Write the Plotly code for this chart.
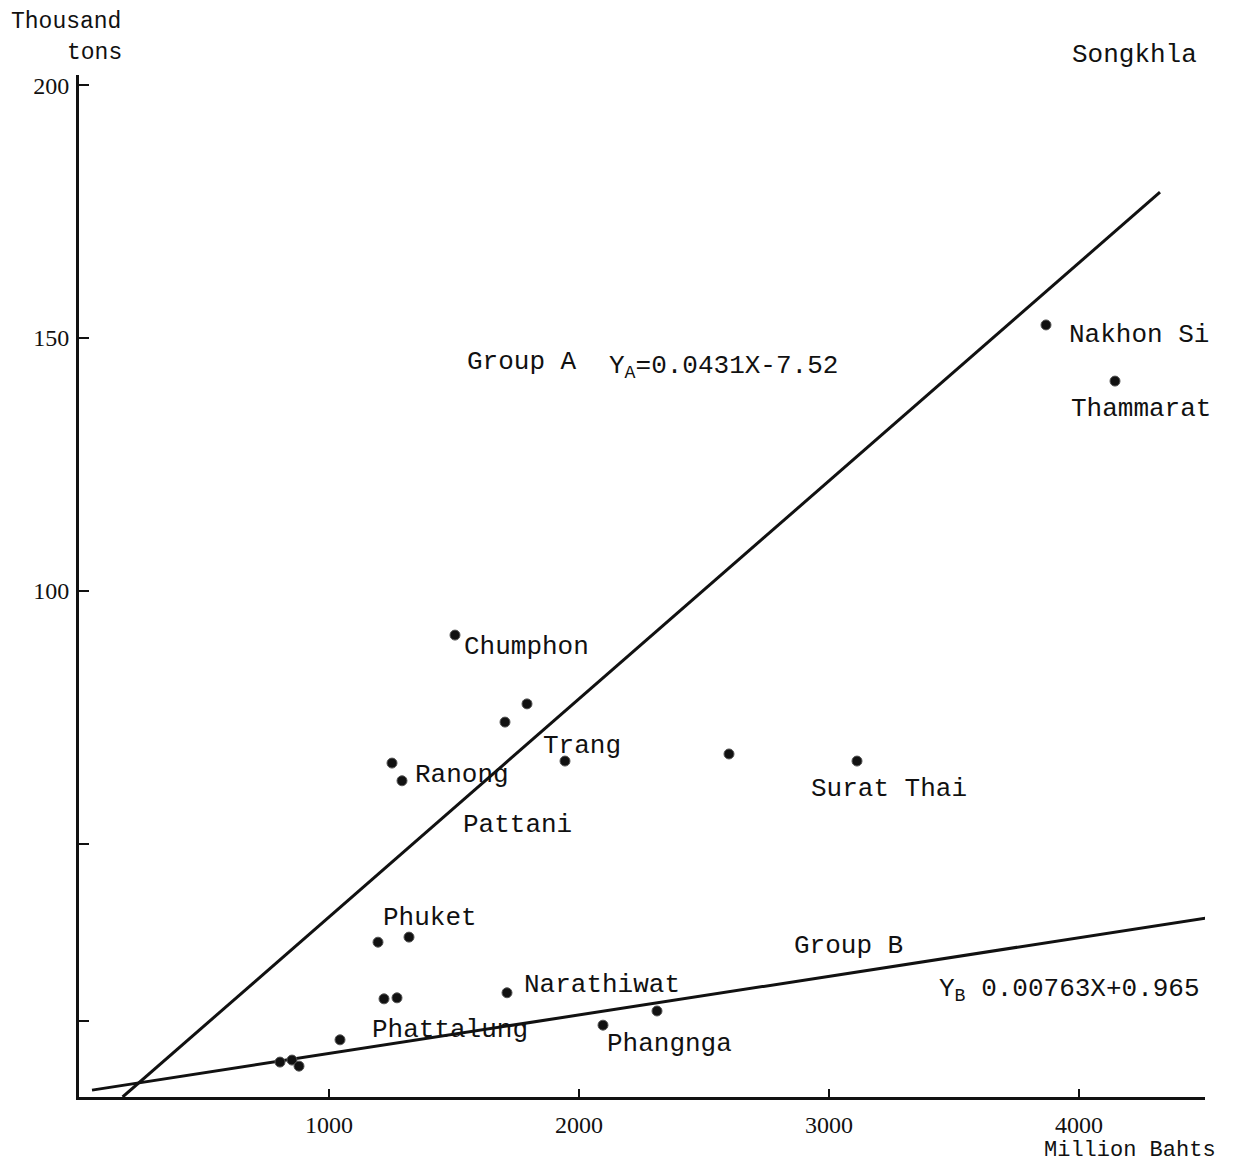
import plotly.graph_objects as go

# ---- data ----
x_invest = [3868, 4144, 1504, 1792, 1704, 1944, 2600, 3112, 1252, 1292,
            1196, 1320, 1220, 1272, 1712, 2312, 2096, 1044, 804, 852, 880]
y_prod = [152.6, 141.5, 91.3, 77.7, 74.1, 66.4, 67.8, 66.4, 66.0, 62.5,
          30.6, 31.6, 19.4, 19.6, 20.6, 17.0, 14.2, 11.3, 6.9, 7.3, 6.1]

line_a_coef = (0.0431, -7.52)
line_a_x = [174.5, 4324]
line_b_coef = (0.00763, 0.965)
line_b_x = [52, 4510]

province_names = ["Nakhon Si", "Thammarat", "Chumphon", "Trang", "Ranong",
                  "Pattani", "Surat Thai", "Phuket", "Narathiwat",
                  "Phattalung", "Phangnga"]
province_label_x = [3952, 3960, 1532, 1848, 1336, 1528, 2920, 1208, 1772,
                    1164, 2104]
province_label_y = [150.6, 136.0, 88.9, 69.4, 63.6, 53.8, 60.9, 35.4, 22.1,
                    13.2, 10.5]

x_ticks = [1000, 2000, 3000, 4000]
y_ticks = [100, 150, 200]
y_minor_ticks = [15, 50]

FONT = "Liberation Mono"
TICKFONT = "Liberation Serif"
INK = "#111111"

line_a_y = [line_a_coef[0] * v + line_a_coef[1] for v in line_a_x]
line_b_y = [line_b_coef[0] * v + line_b_coef[1] for v in line_b_x]

fig = go.Figure()
fig.add_trace(go.Scatter(x=line_a_x, y=line_a_y, mode="lines",
                         line=dict(color=INK, width=3), hoverinfo="skip"))
fig.add_trace(go.Scatter(x=line_b_x, y=line_b_y, mode="lines",
                         line=dict(color=INK, width=3), hoverinfo="skip"))
fig.add_trace(go.Scatter(x=x_invest, y=y_prod, mode="markers",
                         marker=dict(size=10, color=INK,
                                     line=dict(color="#555555", width=1))))

# page body has an 8px margin in the browser; compensate so the plot area
# lands where it is in the reference
OFF = 8
W, H = 1253 - OFF, 1166 - OFF
L, R, T, B = 79 - OFF, 48, 75 - OFF, 69
pw, ph = W - L - R, H - T - B


def px2paper(px, py):
    # px, py are screen pixels of the reference
    return (px - OFF - L) / pw, (H - B - (py - OFF)) / ph


annotations = []
for name, lx, ly in zip(province_names, province_label_x, province_label_y):
    annotations.append(dict(x=lx, y=ly, xref="x", yref="y", text=name,
                            showarrow=False, xanchor="left", yanchor="middle",
                            font=dict(family=FONT, size=26, color=INK)))

annotations += [
    dict(x=1544, y=145.3, xref="x", yref="y", text="Group A", showarrow=False,
         xanchor="left", yanchor="middle", font=dict(family=FONT, size=26, color=INK)),
    dict(x=2112, y=144.3, xref="x", yref="y", text="Y<sub>A</sub>=0.0431X-7.52",
         showarrow=False, xanchor="left", yanchor="middle",
         font=dict(family=FONT, size=26, color=INK)),
    dict(x=2852, y=29.8, xref="x", yref="y", text="Group B", showarrow=False,
         xanchor="left", yanchor="middle", font=dict(family=FONT, size=26, color=INK)),
    dict(x=3432, y=21.2, xref="x", yref="y", text="Y<sub>B</sub> 0.00763X+0.965",
         showarrow=False, xanchor="left", yanchor="middle",
         font=dict(family=FONT, size=26, color=INK)),
]

for txt, px, py, sz in [("Thousand", 10, 22, 23), ("tons", 66, 53, 23),
                        ("Songkhla", 1071, 55, 26),
                        ("Million Bahts", 1043, 1150, 22)]:
    tx, ty = px2paper(px, py)
    annotations.append(dict(x=tx, y=ty, xref="paper", yref="paper", text=txt,
                            showarrow=False, xanchor="left", yanchor="middle",
                            borderpad=0,
                            font=dict(family=FONT, size=sz, color=INK)))

fig.update_layout(
    width=W, height=H,
    margin=dict(l=L, r=R, t=T, b=B),
    paper_bgcolor="white", plot_bgcolor="white",
    showlegend=False,
    annotations=annotations,
    xaxis=dict(range=[0, 4504], tickvals=x_ticks, ticks="inside", ticklen=8,
               tickwidth=2, tickcolor=INK, showgrid=False, zeroline=False,
               showline=True, linecolor=INK, linewidth=3,
               ticklabelstandoff=4,
               tickfont=dict(family=TICKFONT, size=24, color=INK)),
    yaxis=dict(range=[0, 202], tickvals=y_ticks,
               ticks="inside", ticklen=10, tickwidth=2, tickcolor=INK,
               minor=dict(tickvals=y_minor_ticks, ticks="inside", ticklen=10,
                          tickwidth=2, tickcolor=INK, showgrid=False),
               showgrid=False, zeroline=False, showline=True, linecolor=INK,
               linewidth=3, ticklabelstandoff=2,
               tickfont=dict(family=TICKFONT, size=24, color=INK)),
)

fig.write_html("out.html")
